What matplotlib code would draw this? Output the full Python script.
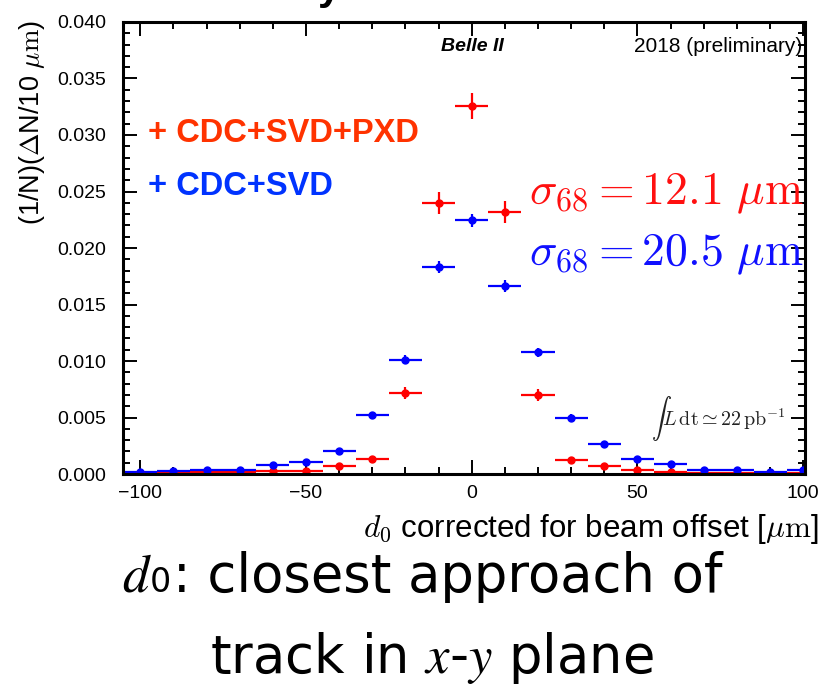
import numpy as np
import matplotlib
matplotlib.use("Agg")
import matplotlib.pyplot as plt
from matplotlib.ticker import MultipleLocator

plt.rcParams['font.family'] = ['Liberation Sans', 'DejaVu Sans']
plt.rcParams['mathtext.fontset'] = 'cm'

# bin centres of d0 [um]
d0 = [-100, -90, -80, -70, -60, -50, -40, -30, -20, -10, 0,
      10, 20, 30, 40, 50, 60, 70, 80, 90, 100]

# CDC+SVD+PXD normalised counts
pxd_val = [0.0001, 0.0001, 0.0002, 0.0002, 0.0003, 0.0003, 0.0007, 0.00135, 0.0072, 0.0240, 0.0326,
           0.0232, 0.0070, 0.00125, 0.0007, 0.00035, 0.0002, 0.0001, 0.0001, 0.0001, 0.0001]
pxd_err = [0.00006, 0.00006, 0.00009, 0.00009, 0.00011, 0.00011, 0.00017, 0.00024, 0.00054, 0.00099, 0.00116,
           0.00098, 0.00054, 0.00023, 0.00017, 0.00012, 0.00009, 0.00006, 0.00006, 0.00006, 0.00006]

# CDC+SVD normalised counts
svd_val = [0.0002, 0.0003, 0.0004, 0.0004, 0.0008, 0.0011, 0.0020, 0.0052, 0.0101, 0.01835, 0.02245,
           0.01664, 0.01077, 0.0050, 0.00265, 0.00135, 0.0009, 0.0004, 0.00035, 0.0002, 0.0004]
svd_err = [0.00006, 0.00007, 0.00008, 0.00008, 0.00011, 0.00013, 0.00018, 0.00029, 0.0004, 0.00054, 0.0006,
           0.00052, 0.00042, 0.00028, 0.0002, 0.00015, 0.00012, 0.00008, 0.00007, 0.00006, 0.00008]

bin_half = 5

fig = plt.figure(figsize=(8.2, 6.87), dpi=100)
ax = fig.add_axes([0.150, 0.310, 0.832, 0.658])

ax.errorbar(d0, pxd_val, xerr=bin_half, yerr=pxd_err, fmt='o', color='#ff0000',
            ms=5, elinewidth=1.6, capsize=0)
ax.errorbar(d0, svd_val, xerr=bin_half, yerr=svd_err, fmt='o', color='#0000ff',
            ms=5, elinewidth=1.6, capsize=0)

ax.set_xlim(-105.2, 100.6)
ax.set_ylim(0, 0.04)
ax.xaxis.set_major_locator(MultipleLocator(50))
ax.xaxis.set_minor_locator(MultipleLocator(10))
ax.yaxis.set_major_locator(MultipleLocator(0.005))
ax.yaxis.set_minor_locator(MultipleLocator(0.001))
ax.yaxis.set_major_formatter(plt.FormatStrFormatter('%.3f'))
ax.tick_params(which='both', direction='in', top=True, right=True, width=1.4, labelsize=14)
ax.tick_params(which='major', length=10)
ax.tick_params(which='minor', length=5)
ax.tick_params(axis='x', pad=8)
ax.tick_params(axis='y', pad=12)
for s in ax.spines.values():
    s.set_linewidth(2.2)

ax.set_ylabel(r'(1/N)($\Delta$N/10 $\mu\mathrm{m}$)', fontsize=19.5, loc='top')
ax.yaxis.set_label_coords(-0.112, 1.005)
ax.set_xlabel(r'$d_0$ corrected for beam offset [$\mu\mathrm{m}$]', fontsize=22.5, loc='right')
ax.xaxis.set_label_coords(1.02, -0.085)

ax.text(0.512, 0.945, 'Belle II', transform=ax.transAxes, fontsize=14, fontweight='bold',
        fontstyle='italic', ha='center', va='center')
ax.text(0.995, 0.945, '2018 (preliminary)', transform=ax.transAxes, fontsize=15,
        ha='right', va='center')

ax.text(0.037, 0.754, '+ CDC+SVD+PXD', transform=ax.transAxes, fontsize=23.5,
        fontweight='bold', color='#ff3300', va='center')
ax.text(0.037, 0.637, '+ CDC+SVD', transform=ax.transAxes, fontsize=23.5,
        fontweight='bold', color='#0033ff', va='center')

ax.text(0.998, 0.622, r'$\sigma_{68} = 12.1\ \mu\mathrm{m}$', transform=ax.transAxes,
        fontsize=33, color='#ff1010', ha='right', va='center')
ax.text(0.998, 0.485, r'$\sigma_{68} = 20.5\ \mu\mathrm{m}$', transform=ax.transAxes,
        fontsize=33, color='#1010ff', ha='right', va='center')

ax.text(0.972, 0.122, r'$\int L\,\mathrm{dt} \simeq 22\,\mathrm{pb}^{-1}$', transform=ax.transAxes,
        fontsize=14.5, ha='right', va='center', color='#222222')

# cut-off heading above the plot
fig.text(0.388, 1.002, 'y', fontsize=30, fontweight='bold', va='baseline')

# caption under the plot
cap_font = ['DejaVu Sans']
W, H = 820.0, 687.0
fig.text(122 / W, 1 - 592 / H, r'$d$', math_fontfamily='stix', fontsize=38, va='baseline')
fig.text(150 / W, 1 - 592 / H, '0', family=cap_font, fontsize=24, va='baseline')
fig.text(173 / W, 1 - 592 / H, ': closest approach of', family=cap_font, fontsize=38,
         va='baseline')
fig.text(210 / W, 1 - 673 / H, r'track in $x$-$y$ plane', family=cap_font,
         math_fontfamily='stix', fontsize=38, va='baseline')

fig.savefig('out.png', dpi=100)
